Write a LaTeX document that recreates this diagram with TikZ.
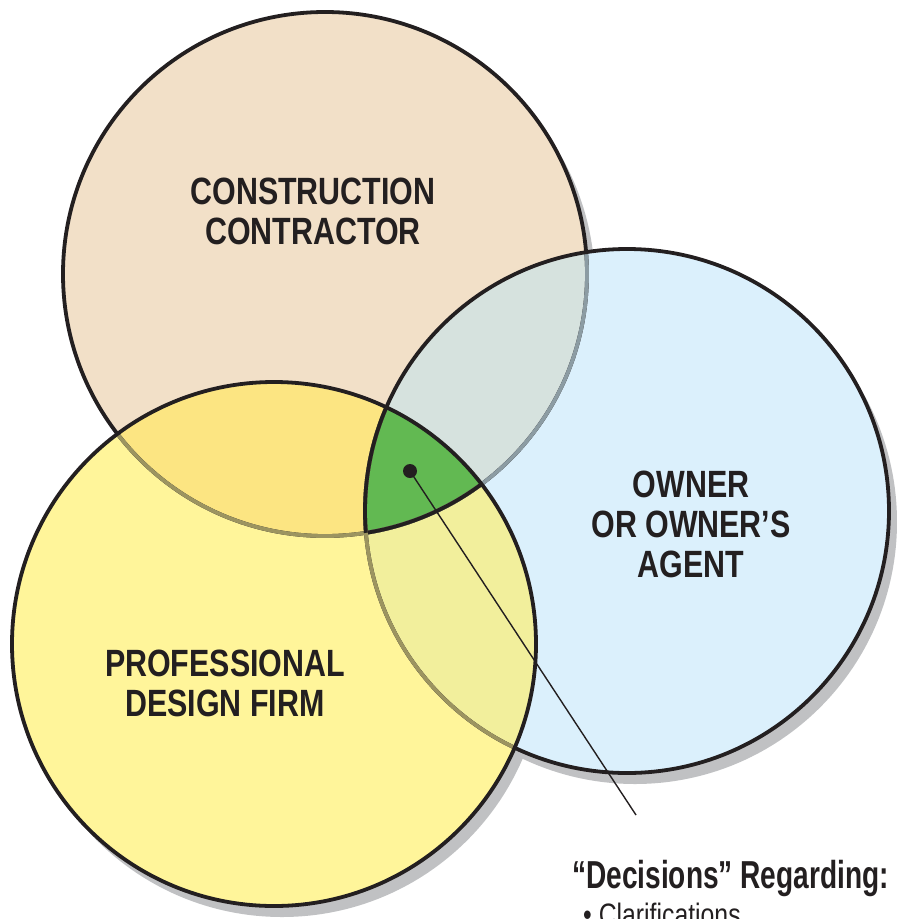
\documentclass[tikz,border=0pt]{standalone}
\usepackage{fontspec}
\setmainfont{Liberation Sans}[FakeStretch=0.8]
\newfontfamily\headfont{Liberation Sans}[FakeStretch=0.72]
\definecolor{tanA}{HTML}{F2E0C8}
\definecolor{blueB}{HTML}{DBF0FC}
\definecolor{yelC}{HTML}{FFF59A}
\definecolor{regAB}{HTML}{D6E2DE}
\definecolor{regAC}{HTML}{FCE582}
\definecolor{regBC}{HTML}{F2EF9C}
\definecolor{grn}{HTML}{62B952}
\definecolor{shad}{HTML}{C0C1C3}
\definecolor{edgeAB}{HTML}{8C9CA3}
\definecolor{edgeC}{HTML}{9C9460}
\definecolor{ink}{HTML}{231F20}
\begin{document}
\begin{tikzpicture}[x=1pt,y=-1pt,line join=round,
  rim/.style={line width=3.8pt},
  lbl/.style={align=center,inner sep=0pt,text=ink,font=\bfseries\fontsize{38}{40}\selectfont}]
\useasboundingbox (0,0) rectangle (897,919);
\coordinate (cA) at (325,274);
\coordinate (cB) at (627,511);
\coordinate (cC) at (274,644);
\def\R{262pt}
% shadows
\fill[shad] ([shift={(8,11)}]cA) circle[radius=\R];
\fill[shad] ([shift={(8,11)}]cB) circle[radius=\R];
\fill[shad] ([shift={(8,11)}]cC) circle[radius=\R];
% fills
\fill[tanA] (cA) circle[radius=\R];
\fill[blueB] (cB) circle[radius=\R];
\fill[yelC] (cC) circle[radius=\R];
\begin{scope}\clip (cA) circle[radius=\R]; \fill[regAB] (cB) circle[radius=\R]; \fill[regAC] (cC) circle[radius=\R]; \end{scope}
\begin{scope}\clip (cB) circle[radius=\R]; \fill[regBC] (cC) circle[radius=\R]; \end{scope}
\begin{scope}\clip (cA) circle[radius=\R]; \clip (cB) circle[radius=\R]; \fill[grn] (cC) circle[radius=\R]; \end{scope}
% outlines of A
\draw[rim,ink] (cA) circle[radius=\R];
\begin{scope}\clip (cB) circle[radius=\R]; \draw[rim,edgeAB] (cA) circle[radius=\R]; \end{scope}
\begin{scope}\clip (cC) circle[radius=\R]; \draw[rim,edgeC] (cA) circle[radius=\R]; \end{scope}
\begin{scope}\clip (cB) circle[radius=\R]; \clip (cC) circle[radius=\R]; \draw[rim,ink] (cA) circle[radius=\R]; \end{scope}
% outlines of B
\draw[rim,ink] (cB) circle[radius=\R];
\begin{scope}\clip (cC) circle[radius=\R]; \draw[rim,edgeC] (cB) circle[radius=\R]; \end{scope}
\begin{scope}\clip (cA) circle[radius=\R]; \clip (cC) circle[radius=\R]; \draw[rim,ink] (cB) circle[radius=\R]; \end{scope}
% outline of C
\draw[rim,ink] (cC) circle[radius=\R];
% labels
\node[lbl] (nA) at (313,211) {CONSTRUCTION\\CONTRACTOR};
\node[lbl] (nB) at (691,524) {OWNER\\OR OWNER’S\\AGENT};
\node[lbl] (nC) at (225,683) {PROFESSIONAL\\DESIGN FIRM};
% leader
\node[circle,fill=ink,inner sep=0pt,minimum size=14pt] (dot) at (410,471) {};
\coordinate (lend) at (636,815);
\draw[ink,line width=1.4pt] (dot.center) -- (lend);
\node[anchor=base west,inner sep=0pt,text=ink,font=\headfont\bfseries\fontsize{39}{40}\selectfont] (head) at (572,888) {“Decisions” Regarding:};
\node[anchor=base west,inner sep=0pt,text=ink,font=\fontsize{31}{33}\selectfont] (bul) at (583,925) {\textbullet\ Clarifications};
\end{tikzpicture}
\end{document}
